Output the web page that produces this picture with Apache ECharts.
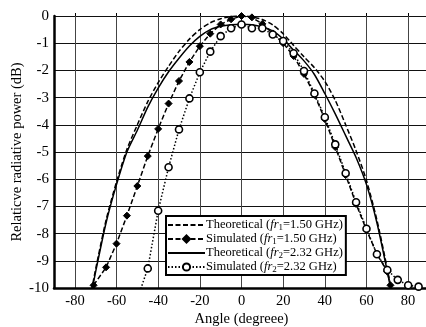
<!DOCTYPE html>
<html>
<head>
<meta charset="utf-8">
<script src="https://cdn.jsdelivr.net/npm/echarts@6/dist/echarts.min.js"></script>
<style>
  html, body { margin: 0; padding: 0; background: #fff; }
  #chart { width: 426px; height: 327px; }
</style>
</head>
<body>
<div id="chart"></div>
<script>
// Radiation pattern: relative radiative power (dB) versus angle (degrees)
const xTicks = [-80, -60, -40, -20, 0, 20, 40, 60, 80];
const yTicks = [0, -1, -2, -3, -4, -5, -6, -7, -8, -9, -10];

// Theoretical, fr1 = 1.50 GHz
const theo1Angle = [-72, -70, -65, -60, -55, -50, -45, -40, -35, -30, -25, -20, -15, -10, -5, 0,
                    5, 10, 15, 20, 25, 30, 35, 40, 45, 50, 55, 60, 65, 70, 72];
const theo1Power = [-10.1, -9.3, -7.5, -6.1, -4.9, -4.0, -3.15, -2.45, -1.85, -1.3, -0.85, -0.5, -0.25, -0.1, -0.02, 0,
                    -0.03, -0.13, -0.33, -0.65, -1.08, -1.5, -1.9, -2.4, -3.1, -4.0, -4.95, -6.05, -7.5, -9.3, -10.1];

// Simulated, fr1 = 1.50 GHz
const sim1Angle = [-71, -65, -60, -55, -50, -45, -40, -35, -30, -25, -20, -15, -10, -5, 0,
                   5, 10, 15, 20, 25, 30, 35, 40, 45, 50, 55, 60, 65, 70, 71.5];
const sim1Power = [-9.9, -9.24, -8.37, -7.34, -6.25, -5.15, -4.15, -3.22, -2.39, -1.69, -1.11, -0.65, -0.31, -0.12, 0,
                   -0.05, -0.29, -0.64, -1.0, -1.47, -2.13, -2.9, -3.79, -4.82, -5.85, -6.91, -7.87, -8.75, -9.4, -9.9];

// Theoretical, fr2 = 2.32 GHz
const theo2Angle = [-72, -70, -65, -60, -55, -50, -45, -40, -35, -30, -25, -20, -15, -10, -5, 0,
                    5, 10, 15, 20, 25, 30, 35, 40, 45, 50, 55, 60, 65, 70, 72];
const theo2Power = [-10.2, -9.4, -7.6, -6.2, -5.0, -4.2, -3.35, -2.65, -2.05, -1.55, -1.1, -0.75, -0.5, -0.38, -0.32, -0.3,
                    -0.32, -0.4, -0.55, -0.85, -1.25, -1.65, -2.15, -2.85, -3.6, -4.4, -5.2, -6.2, -7.6, -9.4, -10.2];

// Simulated, fr2 = 2.32 GHz
const sim2Angle = [-50, -45, -40, -35, -30, -25, -20, -15, -10, -5, 0,
                   5, 10, 15, 20, 25, 30, 35, 40, 45, 50, 55, 60, 65, 70, 75, 80, 85];
const sim2Power = [-10.4, -9.28, -7.16, -5.56, -4.17, -3.03, -2.07, -1.31, -0.74, -0.45, -0.31,
                   -0.45, -0.45, -0.68, -0.92, -1.37, -2.02, -2.85, -3.72, -4.72, -5.78, -6.85, -7.82, -8.76, -9.34, -9.7, -9.9, -9.95];

const seriesNames = [
  'Theoretical (fr1=1.50 GHz)',
  'Simulated (fr1=1.50 GHz)',
  'Theoretical (fr2=2.32 GHz)',
  'Simulated (fr2=2.32 GHz)'
];

const zip = (xs, ys) => xs.map((x, i) => [x, ys[i]]);
const FONT = '"Liberation Serif", "Times New Roman", serif';

const chart = echarts.init(document.getElementById('chart'), null, { renderer: 'canvas' });

const baseY = { type: 'value', min: -10, max: 0, interval: 1 };

chart.setOption({
  animation: false,
  backgroundColor: '#fff',
  textStyle: { fontFamily: FONT, color: '#000' },
  grid: [
    { left: 54, right: -3, top: 16, bottom: 39, outerBoundsMode: 'none', containLabel: false },
    { left: 75, right: 18, top: 16, bottom: 39, outerBoundsMode: 'none', containLabel: false }
  ],
  xAxis: [
    {
      gridIndex: 0, type: 'value', min: -90, max: 90,
      axisLine: { show: true, onZero: false, lineStyle: { color: '#000', width: 2.5 } },
      axisTick: { show: false }, axisLabel: { show: false }, splitLine: { show: false },
      name: 'Angle (degreee)', nameLocation: 'middle', nameGap: 24, nameMoveOverlap: false,
      nameTextStyle: { fontFamily: FONT, fontSize: 14.5, color: '#000' }
    },
    {
      gridIndex: 1, type: 'value', min: -80, max: 80, interval: 20,
      axisLine: { show: false },
      axisTick: { show: true, inside: true, length: 3, lineStyle: { color: '#000' } },
      axisLabel: { fontFamily: FONT, fontSize: 14.5, color: '#000', margin: 6 },
      splitLine: { show: true, lineStyle: { color: '#444', width: 1 } }
    }
  ],
  yAxis: [
    Object.assign({}, baseY, {
      gridIndex: 0,
      axisLine: { show: true, onZero: false, lineStyle: { color: '#000', width: 2.5 } },
      axisTick: { show: false },
      axisLabel: { fontFamily: FONT, fontSize: 15, color: '#000', margin: 5 },
      splitLine: { show: true, lineStyle: { color: '#111', width: 1 } },
      name: 'Relaticve radiative power (dB)', nameLocation: 'middle', nameGap: 29, nameMoveOverlap: false,
      nameTextStyle: { fontFamily: FONT, fontSize: 14.5, color: '#000' }
    }),
    Object.assign({}, baseY, { gridIndex: 1, show: false })
  ],
  legend: {
    orient: 'vertical',
    left: 166, top: 216,
    padding: [2, 3, 1, 1],
    itemGap: 0,
    itemWidth: 37, itemHeight: 9,
    backgroundColor: '#fff',
    borderColor: '#000', borderWidth: 2, borderRadius: 0,
    data: [
      { name: seriesNames[0], itemStyle: { opacity: 0 } },
      { name: seriesNames[1] },
      { name: seriesNames[2], itemStyle: { opacity: 0 } },
      { name: seriesNames[3] }
    ],
    formatter: function (name) {
      const m = name.match(/^(\w+) \(fr(\d)=(.*)\)$/);
      return '{n|' + m[1] + ' (}{i|fr}{s|' + m[2] + '}{n|=' + m[3] + ')}';
    },
    textStyle: {
      fontFamily: FONT, fontSize: 12.5, color: '#000',
      padding: [0, 0, 0, -4],
      rich: {
        n: { fontFamily: FONT, fontSize: 12.5, color: '#000', lineHeight: 13 },
        i: { fontFamily: FONT, fontSize: 12.5, fontStyle: 'italic', color: '#000', lineHeight: 13 },
        s: { fontFamily: FONT, fontSize: 9, color: '#000', padding: [5, 0, 0, 0], lineHeight: 9 }
      }
    }
  },
  series: [
    {
      name: seriesNames[0], type: 'line', xAxisIndex: 0, yAxisIndex: 0,
      data: zip(theo1Angle, theo1Power), smooth: 0.25, showSymbol: false, symbol: 'none',
      lineStyle: { color: '#000', width: 1.5, type: [5, 2.5] }, itemStyle: { color: '#000' },
      clip: true, z: 3
    },
    {
      name: seriesNames[1], type: 'line', xAxisIndex: 0, yAxisIndex: 0,
      data: zip(sim1Angle, sim1Power), symbol: 'diamond', symbolSize: 7,
      lineStyle: { color: '#000', width: 1.5, type: [5, 2.5] },
      itemStyle: { color: '#000', borderColor: '#000', borderWidth: 1 },
      clip: true, z: 4
    },
    {
      name: seriesNames[2], type: 'line', xAxisIndex: 0, yAxisIndex: 0,
      data: zip(theo2Angle, theo2Power), smooth: 0.25, showSymbol: false, symbol: 'none',
      lineStyle: { color: '#000', width: 1.5, type: 'solid' }, itemStyle: { color: '#000' },
      clip: true, z: 3
    },
    {
      name: seriesNames[3], type: 'line', xAxisIndex: 0, yAxisIndex: 0,
      data: zip(sim2Angle, sim2Power), symbol: 'circle', symbolSize: 7,
      lineStyle: { color: '#000', width: 1.5, type: [1.5, 2] },
      itemStyle: { color: '#fff', borderColor: '#000', borderWidth: 1.6 },
      clip: true, z: 5
    }
  ]
});
</script>
</body>
</html>
